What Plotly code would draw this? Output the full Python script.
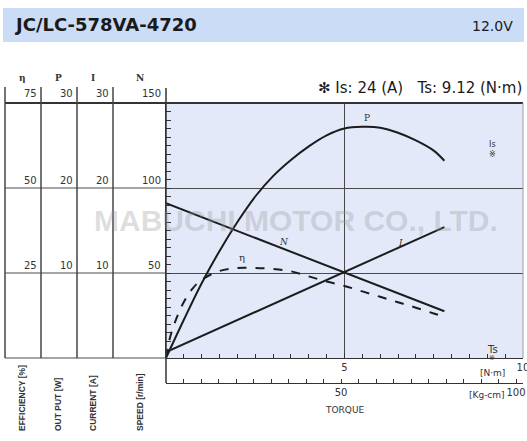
import plotly.graph_objects as go

# ---------------- data ----------------
speed_torque = [0.0, 7.8]          # N·m
speed_rpm = [91.0, 27.5]           # r/min

current_torque = [0.0, 7.8]
current_a = [0.7, 15.4]            # A

power_torque = [0, 0.5, 1, 1.5, 2, 2.5, 3, 3.5, 4, 4.5, 5, 5.5, 6, 6.5, 7, 7.5, 7.8]
power_w = [0, 4.5, 8.8, 12.6, 16.0, 19.0, 21.4, 23.3, 24.9, 26.2, 27.0, 27.2, 27.1, 26.5, 25.6, 24.4, 23.2]

eff_torque = [0, 0.1, 0.25, 0.5, 0.75, 1, 1.5, 2, 2.5, 3, 3.5, 4, 4.5, 5, 5.5, 6, 6.5, 7, 7.5, 7.8]
eff_pct = [0, 5.5, 10.5, 16.5, 20.5, 23.0, 25.6, 26.5, 26.5, 26.2, 25.5, 24.0, 22.5, 21.2, 19.6, 18.0, 16.4, 14.8, 13.1, 12.1]

eff_ticks = ["75", "50", "25"]
pow_ticks = ["30", "20", "10"]
cur_ticks = ["30", "20", "10"]
spd_ticks = ["150", "100", "50"]
col_headers = ["η", "P", "I", "N"]
col_titles = ["EFFICIENCY [%]", "OUT PUT [W]", "CURRENT [A]", "SPEED [r/min]"]

model = "JC/LC-578VA-4720"
voltage = "12.0V"
stall_text = "✻ Is: 24 (A)   Ts: 9.12 (N·m)"

# ---------------- helpers ----------------
W, H = 527, 441
def px(x):
    return x / W
def py(y):
    return 1 - y / H

LINE = "#1c1c1c"
GRID = "#4a4a4a"
XMAX = 10.002

fig = go.Figure()
fig.add_trace(go.Scatter(x=speed_torque, y=speed_rpm, mode="lines", xaxis="x", yaxis="y",
                         line=dict(color=LINE, width=2), hoverinfo="skip", showlegend=False))
fig.add_trace(go.Scatter(x=current_torque, y=current_a, mode="lines", xaxis="x", yaxis="y2",
                         line=dict(color=LINE, width=2), hoverinfo="skip", showlegend=False))
fig.add_trace(go.Scatter(x=power_torque, y=power_w, mode="lines", xaxis="x", yaxis="y3",
                         line=dict(color=LINE, width=2, shape="spline"), hoverinfo="skip", showlegend=False))
fig.add_trace(go.Scatter(x=eff_torque, y=eff_pct, mode="lines", xaxis="x", yaxis="y4",
                         line=dict(color=LINE, width=2, dash="dash", shape="spline"),
                         hoverinfo="skip", showlegend=False))
# kg·cm axis carrier (invisible)
fig.add_trace(go.Scatter(x=[t * 10.197 for t in speed_torque], y=speed_rpm, mode="lines",
                         xaxis="x2", yaxis="y", line=dict(width=0), opacity=0,
                         hoverinfo="skip", showlegend=False))

xdom = [px(166), px(523)]
ydom = [py(358), py(103)]

fig.update_layout(
    width=W, height=H,
    margin=dict(l=0, r=0, t=0, b=0),
    paper_bgcolor="white",
    plot_bgcolor="#e3e9f9",
    font=dict(family="DejaVu Sans", color="#333"),
    xaxis=dict(domain=xdom, range=[0, XMAX], anchor="y", showline=True, linecolor="#333", linewidth=1,
               tickvals=[5, 10], ticktext=["5", "10"], ticks="inside", ticklen=5, tickcolor="#333",
               tickfont=dict(size=10, color="#333"), ticklabeloverflow="allow",
               showgrid=True, gridcolor=GRID, gridwidth=1, zeroline=False,
               minor=dict(dtick=0.5, ticks="inside", ticklen=4, tickcolor="#333", showgrid=False),
               automargin=False, fixedrange=True),
    xaxis2=dict(overlaying="x", anchor="free", position=py(383), side="bottom",
                domain=xdom, range=[0, XMAX * 10.197], showline=True, linecolor="#333", linewidth=1,
                tickvals=[50, 100], ticktext=["50", "100"], ticks="inside", ticklen=4, tickcolor="#333",
                tickfont=dict(size=10, color="#333"), ticklabeloverflow="allow",
                showgrid=False, zeroline=False,
                minor=dict(dtick=5, ticks="inside", ticklen=4, tickcolor="#333", showgrid=False),
                automargin=False),
    yaxis=dict(domain=ydom, range=[0, 150], anchor="x", showline=True, linecolor="#333", linewidth=1,
               tickvals=[50, 100], showticklabels=False, ticks="inside", ticklen=5, tickcolor="#333",
               showgrid=True, gridcolor=GRID, gridwidth=1, zeroline=False,
               minor=dict(dtick=5, ticks="inside", ticklen=5, tickcolor="#333", showgrid=False),
               automargin=False),
    yaxis2=dict(overlaying="y", range=[0, 30], visible=False),
    yaxis3=dict(overlaying="y", range=[0, 30], visible=False),
    yaxis4=dict(overlaying="y", range=[0, 75], visible=False),
)

shapes = []
# header band
shapes.append(dict(type="rect", xref="paper", yref="paper", x0=px(3), x1=px(524), y0=py(42), y1=py(8),
                   fillcolor="#cbddf6", line=dict(width=0), layer="below"))
# top border across table + plot
shapes.append(dict(type="line", xref="paper", yref="paper", x0=px(5), x1=px(523), y0=py(103), y1=py(103),
                   line=dict(color="#333", width=2)))
# right border
shapes.append(dict(type="line", xref="paper", yref="paper", x0=px(523), x1=px(523), y0=py(358), y1=py(103),
                   line=dict(color="#9a9aa8", width=1)))
# left axis extension
shapes.append(dict(type="line", xref="paper", yref="paper", x0=px(166), x1=px(166), y0=py(383), y1=py(88),
                   line=dict(color="#333", width=1.5)))
# table verticals
for xv in [5, 41, 77, 113]:
    shapes.append(dict(type="line", xref="paper", yref="paper", x0=px(xv), x1=px(xv), y0=py(358), y1=py(87),
                       line=dict(color="#444", width=1.5)))
# table horizontals
for yv in [188, 273, 358]:
    shapes.append(dict(type="line", xref="paper", yref="paper", x0=px(5), x1=px(166), y0=py(yv), y1=py(yv),
                       line=dict(color=GRID, width=1)))
fig.update_layout(shapes=shapes)

ann = []
def A(text, x, y, size=10, xanchor="center", yanchor="middle", color="#333", family="DejaVu Sans", **kw):
    ann.append(dict(text=text, x=px(x), y=py(y), xref="paper", yref="paper", showarrow=False,
                    xanchor=xanchor, yanchor=yanchor, font=dict(size=size, color=color, family=family), **kw))

# watermark
A("<b>MABUCHI MOTOR CO., LTD.</b>", 296, 221, size=30, color="rgba(150,150,150,0.33)",
  family="Liberation Sans")

# header
A("<b>" + model + "</b>", 12, 25, size=18, xanchor="left", color="#1a1a1a")
A(voltage, 515, 26, size=14, xanchor="right", color="#1a1a1a")
A(stall_text, 524, 88, size=15, xanchor="right", color="#1a1a1a")

# table headers and values
col_right = [39, 75, 111, 163]
col_center = [22, 58, 93, 140]
rows_y = [93, 180, 265]
cols = [eff_ticks, pow_ticks, cur_ticks, spd_ticks]
for i, vals in enumerate(cols):
    A("<b>" + col_headers[i] + "</b>", col_center[i], 78, size=9, color="#333", family="DejaVu Serif")
    for j, v in enumerate(vals):
        A(v, col_right[i], rows_y[j], size=10, xanchor="right", color="#333")
    A("<b>" + col_titles[i] + "</b>", col_center[i], 433, size=8.5, yanchor="bottom",
      textangle=-90, color="#333", family="Liberation Sans")

# curve labels
A("P", 367, 118, size=9, family="DejaVu Serif")
A("<i>N</i>", 284, 242, size=9, family="DejaVu Serif")
A("<i>I</i>", 400, 243, size=9, family="DejaVu Serif")
A("η", 242, 257, size=10, family="DejaVu Serif")
A("Is<br>※", 492, 149, size=8, color="#333")
A("Ts", 492, 349, size=10, color="#333")
A("※", 492, 358, size=7, color="#333")

# axis unit labels
A("[N·m]", 492, 373, size=9)
A("[Kg-cm]", 487, 395, size=9)
A("TORQUE", 345, 410, size=9)

fig.update_layout(annotations=ann)
fig.write_html("out.html", config={"displayModeBar": False},
               post_script="document.body.style.margin='0';")
